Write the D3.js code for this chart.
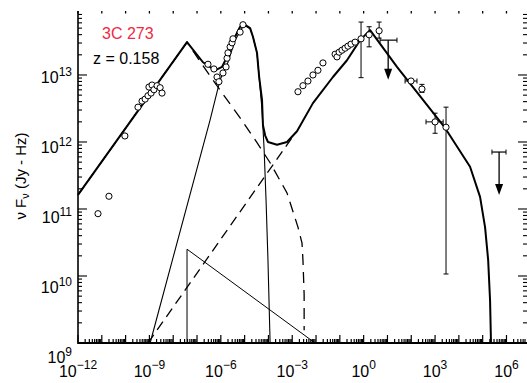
<!DOCTYPE html>
<html><head><meta charset="utf-8">
<script src="https://cdn.jsdelivr.net/npm/d3@7/dist/d3.min.js"></script>
<style>body{margin:0;background:#fff}svg{display:block}text{font-family:"Liberation Sans",Arial,Helvetica,sans-serif}</style>
</head><body>
<svg id="c" width="527" height="383"></svg>
<script>
// ---- data (log10 nu [Hz], log10 nuFnu [Jy Hz]) ----
const xTickExps = [-12, -9, -6, -3, 0, 3, 6];
const yTickExps = [9, 10, 11, 12, 13];
const title = "3C 273";
const subtitle = "z = 0.158";
const yTitle = "(Jy - Hz)";

const totalModel = [[-12.00,11.21],[-7.42,13.49],[-6.75,13.19],[-6.24,13.07],[-5.95,13.12],[-5.70,13.30],
  [-5.40,13.57],[-5.19,13.72],[-5.03,13.76],[-4.77,13.70],[-4.65,13.57],[-4.48,13.33],[-4.39,12.97],
  [-4.27,12.63],[-4.23,12.25],[-4.14,12.10],[-4.02,12.00],[-3.64,11.96],[-3.22,12.00],[-2.80,12.16],
  [-2.13,12.58],[-1.29,12.97],[-0.70,13.22],[-0.15,13.52],[0.27,13.67],[1.40,13.12],[3.42,12.21],
  [4.47,11.63],[4.89,11.18],[5.10,10.73],[5.23,10.24],[5.31,9.64],[5.35,9.00]];
const synchrotron = [[-12.00,11.21],[-7.42,13.49],[-6.54,13.03],[-5.82,12.67],[-5.19,12.36],[-4.48,11.99],
  [-3.93,11.69],[-3.22,11.24],[-2.76,10.73],[-2.59,10.49],[-2.55,10.24],[-2.50,9.72],[-2.50,9.19]];
const compton = [[-9.06,9.00],[-2.90,12.12]];
const blueBump = [[-8.97,9.00],[-8.01,10.27],[-6.45,12.33],[-6.03,12.93],[-5.70,13.19],[-5.40,13.52],
  [-5.03,13.75],[-4.77,13.69],[-4.65,13.57],[-4.48,13.33],[-4.39,12.97],[-4.27,12.48],[-4.18,11.88],
  [-4.10,11.13],[-4.02,10.24],[-3.93,9.00]];
const thinTriangle = [[-7.42,9.00],[-7.42,10.40],[-2.04,9.00]];

const obsPoints = [[-11.16,10.93],[-10.70,11.19],[-10.03,12.09],[-9.48,12.52],[-9.31,12.61],[-9.18,12.64],
  [-9.06,12.69],[-8.93,12.73],[-9.02,12.82],[-8.89,12.85],[-8.81,12.78],[-8.68,12.84],[-8.55,12.81],[-8.47,12.73],
  [-6.54,13.16],[-6.29,13.09],[-6.16,12.97],[-6.08,12.90],[-5.91,13.03],[-5.78,13.12],[-5.74,13.25],[-5.70,13.33],
  [-5.61,13.42],[-5.53,13.48],[-5.49,13.54],[-5.19,13.64],[-5.07,13.75],
  [-2.76,12.75],[-2.55,12.84],[-2.34,12.91],[-2.13,13.00],[-1.92,13.07],[-1.71,13.18],
  [-1.20,13.31],[-1.12,13.27],[-1.03,13.34],[-0.91,13.37],[-0.78,13.40],[-0.66,13.43],[-0.53,13.46],[-0.36,13.49],
  [-0.11,13.54],[0.23,13.60],[0.65,13.66],[1.99,12.91],[2.45,12.79],[3.00,12.30],[3.46,12.22]];
// vertical error bars: [logNu, low, high]
const yErrors = [[-0.11,12.96,13.79],[0.23,13.42,13.72],[0.65,13.55,13.79],[3.00,12.13,12.43],[3.46,10.03,12.52],[2.45,12.74,12.86]];
// horizontal error bars: [logF, low, high]
const xErrors = [[12.91,1.74,2.24],[12.30,2.62,3.34]];
// upper limits: [logNu, logF, nuLow, nuHigh, arrowTo]
const upperLimits = [[1.03,13.52,0.69,1.40,12.93],[5.69,11.85,5.39,5.98,11.21]];

// ---- layout ----
const svg = d3.select("#c");
const x = d3.scaleLog().domain([1e-12, Math.pow(10, 6.82)]).range([78, 526]);
const y = d3.scaleLog().domain([1e9, Math.pow(10, 13.94)]).range([343, 12]);
const X = e => x(Math.pow(10, e)), Y = e => y(Math.pow(10, e));
const line = d3.line().x(d => X(d[0])).y(d => Y(d[1])).curve(d3.curveLinear);

// axes
const g = svg.append("g");
const xMin = -12, xMax = 6.82, yMin = 9, yMax = 13.94;
// bottom axis & ticks
g.append("line").attr("x1", 78).attr("x2", 527).attr("y1", 343).attr("y2", 343).attr("stroke", "#000").attr("stroke-width", 2);
g.append("line").attr("x1", 78).attr("x2", 78).attr("y1", 11).attr("y2", 344).attr("stroke", "#000").attr("stroke-width", 1.6);
for (let e = -12; e <= 6; e++) {
  for (let k = 1; k <= 9; k++) {
    const v = k * Math.pow(10, e);
    if (Math.log10(v) > xMax) continue;
    const px = x(v), len = k === 1 ? 8 : 4;
    g.append("line").attr("x1", px).attr("x2", px).attr("y1", 343).attr("y2", 343 - len).attr("stroke", "#000").attr("stroke-width", 1.2);
    if (k === 1) g.append("line").attr("x1", px).attr("x2", px).attr("y1", 11).attr("y2", 13.5).attr("stroke", "#000").attr("stroke-width", 1.3);
  }
}
for (let e = 9; e <= 13; e++) {
  for (let k = 1; k <= 9; k++) {
    const v = k * Math.pow(10, e);
    if (Math.log10(v) > yMax) continue;
    const py = y(v), len = k === 1 ? 9 : 4;
    g.append("line").attr("x1", 78).attr("x2", 78 + len).attr("y1", py).attr("y2", py).attr("stroke", "#000").attr("stroke-width", 1.1);
    g.append("line").attr("x1", 527).attr("x2", 527 - len).attr("y1", py).attr("y2", py).attr("stroke", "#000").attr("stroke-width", 1.1);
  }
}
// tick labels
xTickExps.forEach(e => {
  const t = g.append("text").attr("x", X(e)).attr("y", 377).attr("text-anchor", "middle").attr("font-size", 16);
  t.append("tspan").text("10");
  t.append("tspan").attr("font-size", 12).attr("dy", -8).text(String(e).replace("-", "\u2212"));
});
yTickExps.forEach(e => {
  const t = g.append("text").attr("x", 72).attr("y", Y(e) + 8 + (13 - e) * 3).attr("text-anchor", "end").attr("font-size", 16);
  t.append("tspan").text("10");
  t.append("tspan").attr("font-size", 12).attr("dy", -7).text(String(e));
});
// y title
const yt = g.append("text").attr("transform", "translate(26,176) rotate(-90)").attr("text-anchor", "middle").attr("font-size", 15);
yt.append("tspan").text("\u03bd F");
yt.append("tspan").attr("font-size", 11).attr("dy", 3).text("\u03bd");
yt.append("tspan").attr("dy", -3).text(" " + yTitle);

// labels
g.append("text").attr("x", 102).attr("y", 39).attr("font-size", 16).attr("fill", "#ee2a44").text(title);
g.append("text").attr("x", 93).attr("y", 64).attr("font-size", 16).attr("fill", "#000").text(subtitle);

// model curves
const m = svg.append("g").attr("fill", "none").attr("stroke", "#000");
m.append("path").attr("d", line(thinTriangle)).attr("stroke-width", 1);
m.append("path").attr("d", line(blueBump)).attr("stroke-width", 1.1);
m.append("path").attr("d", line(compton)).attr("stroke-width", 1.3).attr("stroke-dasharray", "10,6");
m.append("path").attr("d", line(synchrotron)).attr("stroke-width", 1.3).attr("stroke-dasharray", "11,7");
m.append("path").attr("d", line(totalModel)).attr("stroke-width", 2).attr("stroke-linejoin", "round");

// error bars
const eb = svg.append("g").attr("stroke", "#000").attr("stroke-width", 1);
yErrors.forEach(d => {
  eb.append("line").attr("x1", X(d[0])).attr("x2", X(d[0])).attr("y1", Y(d[1])).attr("y2", Y(d[2]));
  [d[1], d[2]].forEach(v => eb.append("line").attr("x1", X(d[0]) - 2.5).attr("x2", X(d[0]) + 2.5).attr("y1", Y(v)).attr("y2", Y(v)));
});
xErrors.forEach(d => {
  eb.append("line").attr("x1", X(d[1])).attr("x2", X(d[2])).attr("y1", Y(d[0])).attr("y2", Y(d[0]));
  [d[1], d[2]].forEach(v => eb.append("line").attr("x1", X(v)).attr("x2", X(v)).attr("y1", Y(d[0]) - 2.5).attr("y2", Y(d[0]) + 2.5));
});
upperLimits.forEach(d => {
  const px = X(d[0]), py = Y(d[1]), pa = Y(d[4]);
  eb.append("line").attr("x1", X(d[2])).attr("x2", X(d[3])).attr("y1", py).attr("y2", py).attr("stroke-width", 1.2);
  [d[2], d[3]].forEach(v => eb.append("line").attr("x1", X(v)).attr("x2", X(v)).attr("y1", py - 2.5).attr("y2", py + 2.5));
  eb.append("line").attr("x1", px).attr("x2", px).attr("y1", py).attr("y2", pa - 6).attr("stroke-width", 1.3);
  svg.append("path").attr("d", `M${px - 4},${pa - 11} L${px + 4},${pa - 11} L${px},${pa} Z`).attr("fill", "#000");
});

// data points
svg.append("g").selectAll("circle").data(obsPoints).join("circle")
  .attr("cx", d => X(d[0])).attr("cy", d => Y(d[1])).attr("r", 3.1)
  .attr("fill", "#fff").attr("stroke", "#000").attr("stroke-width", 1);
</script>
</body></html>
